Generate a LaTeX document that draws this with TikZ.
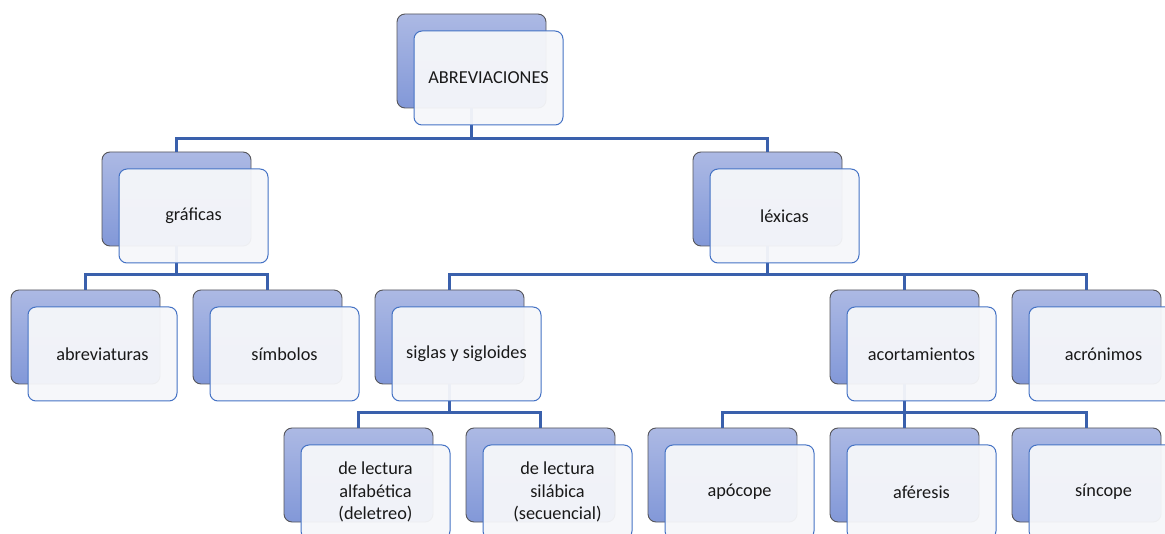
\documentclass[tikz,border=0pt]{standalone}
\usepackage{fontspec}
\setmainfont{Carlito}
\usepackage{tikz}
\usetikzlibrary{positioning}

\definecolor{backtop}{RGB}{172,185,228}
\definecolor{backbot}{RGB}{130,152,216}
\definecolor{backline}{RGB}{85,85,90}
\definecolor{frontline}{RGB}{68,114,196}
\definecolor{frontfill}{RGB}{246,247,250}
\definecolor{linkblue}{RGB}{58,96,172}

\begin{document}
\begin{tikzpicture}[
        x=1pt, y=-1pt,
        backbox/.style={
            rectangle,
            draw=backline,
            line width=0.9pt,
            top color=backtop,
            bottom color=backbot,
            rounded corners=8pt,
            minimum width=149pt,
            minimum height=94pt,
            inner sep=0pt
        },
        frontbox/.style={
            rectangle,
            draw=frontline,
            line width=1pt,
            fill=frontfill,
            fill opacity=0.95,
            text opacity=1,
            rounded corners=8pt,
            minimum width=149pt,
            minimum height=94pt,
            inner sep=0pt,
            align=center,
            text=black!90,
            font=\fontsize{18.3}{22.5}\selectfont,
            xshift=17pt,
            yshift=-17pt
        },
        link/.style={
            line width=2.4pt,
            draw=linkblue
        }
    ]

    \useasboundingbox (0,0) rectangle (1165,534);

    % Back boxes
    \node[backbox] (root) at (471.5,61) {};
    \node[backbox] (graf) at (176.5,199) {};
    \node[backbox] (lex) at (767.5,199) {};
    \node[backbox] (abv) at (85.5,337) {};
    \node[backbox] (sim) at (267.5,337) {};
    \node[backbox] (sig) at (449.5,337) {};
    \node[backbox] (acort) at (904.5,337) {};
    \node[backbox] (acro) at (1086.5,337) {};
    \node[backbox] (alf) at (358.5,475) {};
    \node[backbox] (sil) at (540.5,475) {};
    \node[backbox] (apo) at (722.5,475) {};
    \node[backbox] (afe) at (904.5,475) {};
    \node[backbox] (sin) at (1086.5,475) {};

    % Connectors
    \draw[link] (root.south) -- ++(0,30) coordinate (rootJ);
    \draw[link] (rootJ) -| (graf.north);
    \draw[link] (rootJ) -| (lex.north);

    \draw[link] (graf.south) -- ++(0,28) coordinate (grafJ);
    \draw[link] (grafJ) -| (abv.north);
    \draw[link] (grafJ) -| (sim.north);

    \draw[link] (lex.south) -- ++(0,28) coordinate (lexJ);
    \draw[link] (lexJ) -| (sig.north);
    \draw[link] (lexJ) -| (acort.north);
    \draw[link] (lexJ) -| (acro.north);

    \draw[link] (sig.south) -- ++(0,28) coordinate (sigJ);
    \draw[link] (sigJ) -| (alf.north);
    \draw[link] (sigJ) -| (sil.north);

    \draw[link] (acort.south) -- ++(0,28) coordinate (acortJ);
    \draw[link] (acortJ) -| (apo.north);
    \draw[link] (acortJ) -| (afe.north);
    \draw[link] (acortJ) -| (sin.north);

    % Front boxes with the texts
    \node[frontbox] (rootF) at (root) {ABREVIACIONES};
    \node[frontbox] (grafF) at (graf) {gráficas};
    \node[frontbox] (lexF) at (lex) {léxicas};
    \node[frontbox] (abvF) at (abv) {abreviaturas};
    \node[frontbox] (simF) at (sim) {símbolos};
    \node[frontbox] (sigF) at (sig) {siglas y sigloides};
    \node[frontbox] (acortF) at (acort) {acortamientos};
    \node[frontbox] (acroF) at (acro) {acrónimos};
    \node[frontbox] (alfF) at (alf) {de lectura\\alfabética\\(deletreo)};
    \node[frontbox] (silF) at (sil) {de lectura\\silábica\\(secuencial)};
    \node[frontbox] (apoF) at (apo) {apócope};
    \node[frontbox] (afeF) at (afe) {aféresis};
    \node[frontbox] (sinF) at (sin) {síncope};

\end{tikzpicture}
\end{document}
